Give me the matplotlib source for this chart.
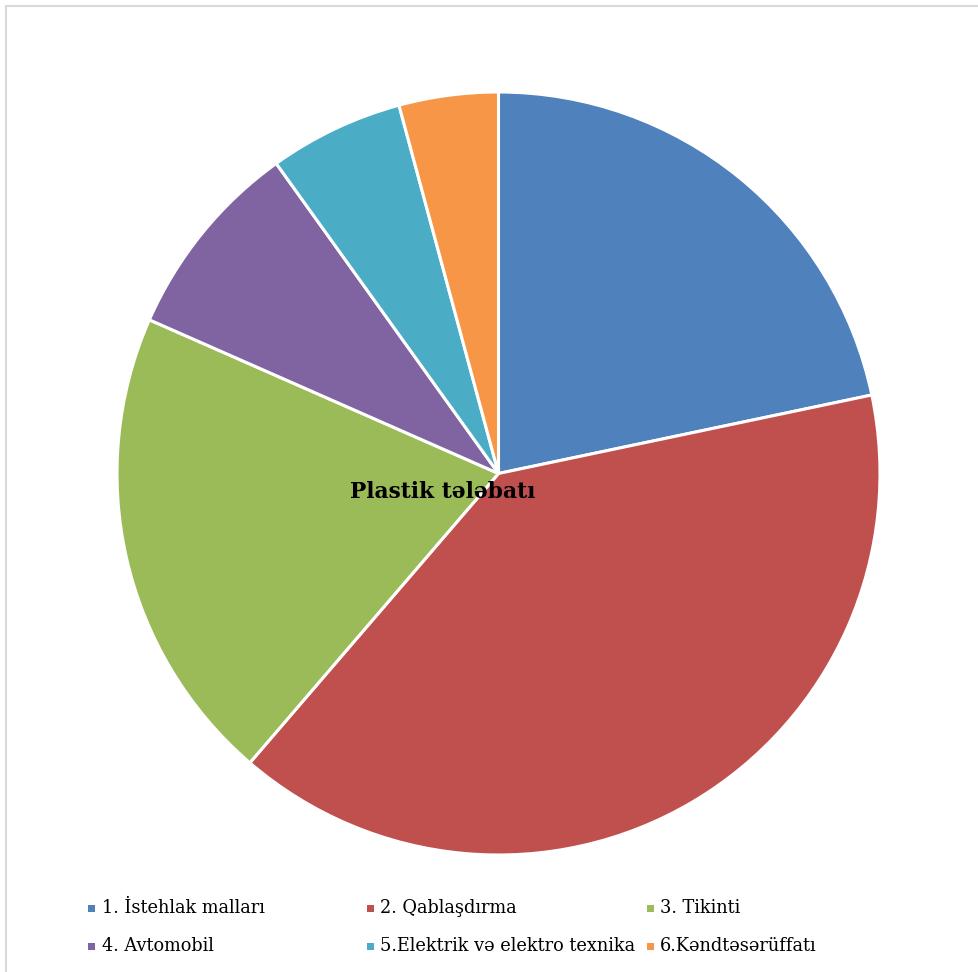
import matplotlib
matplotlib.use("Agg")
import matplotlib.pyplot as plt
from matplotlib.patches import Rectangle

# Datos del grafico
sektorlar = ["1. İstehlak malları", "2. Qablaşdırma", "3. Tikinti",
             "4. Avtomobil", "5.Elektrik və elektro texnika", "6.Kəndtəsərüffatı"]
paylar = [21.7, 39.6, 20.3, 8.5, 5.7, 4.2]
rengler = ["#4F81BD", "#C0504D", "#9BBB59", "#8064A2", "#4BACC6", "#F79646"]
basliq = "Plastik tələbatı"

serif = ["DejaVu Serif"]

W, H = 979, 972
fig = plt.figure(figsize=(W / 100, H / 100), dpi=100)
fig.patch.set_facecolor("white")

# Cerceve (solo se ve arriba e izquierda)
fig.patches.append(Rectangle((6 / W, -0.05), 1.2, 1 - 6 / H + 0.05,
                             transform=fig.transFigure, fill=False,
                             edgecolor="#d9d9d9", linewidth=1.5))

# Torta
cx, cy, r = 498.5, 473.5, 381.5
ax = fig.add_axes([(cx - r) / W, (H - cy - r) / H, 2 * r / W, 2 * r / H])
ax.pie(paylar, colors=rengler, startangle=90, counterclock=False,
       radius=1, wedgeprops=dict(edgecolor="white", linewidth=2.2))
ax.set_xlim(-1, 1)
ax.set_ylim(-1, 1)
ax.set_aspect("equal")
ax.axis("off")

fig.text(443 / W, 1 - 492 / H, basliq, ha="center", va="center",
         fontsize=15.7, fontweight="bold", family=serif)

# Leyenda manual (3 columnas)
xs = [92, 370, 650]
ys = [908, 946]
for i, (lab, col) in enumerate(zip(sektorlar, rengler)):
    x = xs[i % 3]
    y = ys[i // 3]
    fig.patches.append(Rectangle(((x - 3.5) / W, 1 - (y + 3.5) / H), 7 / W, 7 / H,
                                 transform=fig.transFigure, facecolor=col,
                                 edgecolor="none"))
    fig.text((x + 10) / W, 1 - y / H, lab, ha="left", va="center",
             fontsize=12.8, family=serif)

fig.savefig("out.png", dpi=100)
